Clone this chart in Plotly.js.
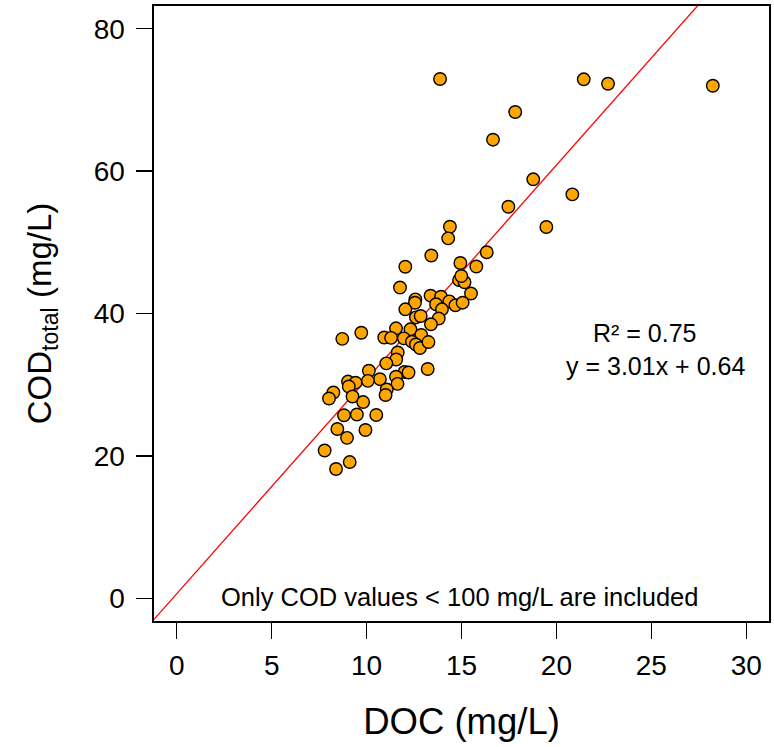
<!DOCTYPE html>
<html>
<head>
<meta charset="utf-8">
<script src="https://cdn.plot.ly/plotly-3.0.1.min.js"></script>
<style>html,body{margin:0;padding:0;background:#fff}#chart{width:774px;height:747px}</style>
</head>
<body>
<div id="chart"></div>
<script>
// DOC (mg/L)
const doc = [13.87,21.44,22.72,28.24,17.83,16.66,18.78,20.84,17.47,19.47,
  14.39,14.30,13.41,16.33,14.94,12.04,15.78,14.87,15.16,14.99,
  11.76,15.50,13.37,13.92,12.57,12.55,14.36,13.66,14.68,15.06,
  13.97,12.04,12.60,12.85,13.80,13.39,11.55,12.31,9.72,8.72,
  10.93,11.29,11.96,12.88,12.39,12.60,12.81,13.26,11.64,11.56,
  11.04,13.22,12.00,12.21,10.12,10.70,11.55,11.63,9.02,9.42,
  9.06,10.07,11.06,11.00,8.25,9.26,8.02,9.82,8.81,9.49,
  10.51,8.46,8.97,9.94,7.79,9.11,8.39];
// COD total (mg/L)
const cod = [72.94,72.90,72.28,72.00,68.31,64.42,58.85,56.74,55.00,52.15,
  52.19,50.56,48.15,48.60,47.09,46.57,46.60,44.70,44.39,45.27,
  43.65,42.81,42.50,42.36,41.99,41.51,41.71,41.30,41.15,41.52,
  40.59,40.59,39.46,39.65,39.30,38.48,37.92,37.78,37.30,36.44,
  36.63,36.58,36.51,36.98,36.04,35.64,35.15,35.99,34.52,33.54,
  33.00,32.20,31.78,31.71,31.96,30.77,31.12,30.12,30.44,30.28,
  29.74,30.54,29.32,28.55,28.90,28.34,28.06,27.56,25.70,25.81,
  25.74,23.77,22.53,23.63,20.75,19.13,18.15];
const slope = 3.01, intercept = 0.64;
const xRange = [-1.2, 31.2], yRange = [-3.2, 83.2];
const xTicks = [0,5,10,15,20,25,30];
const yTicks = [0,20,40,60,80];
const fitText = ["R² = 0.75", "y = 3.01x + 0.64"];
const noteText = "Only COD values < 100 mg/L are included";

const fitX = xRange.slice();
const fitY = fitX.map(x => slope*x + intercept);

const font = "Liberation Sans, Arial, sans-serif";
const data = [
  {x: fitX, y: fitY, mode: 'lines', type: 'scatter', line: {color: '#FF0000', width: 1.3}, hoverinfo: 'skip'},
  {x: doc, y: cod, mode: 'markers', type: 'scatter',
   marker: {size: 12.5, color: '#FFA500', line: {color: '#000000', width: 1.4}}}
];
const layout = {
  width: 774, height: 747,
  margin: {l: 154, r: 5, t: 6, b: 126},
  paper_bgcolor: '#fff', plot_bgcolor: '#fff',
  showlegend: false,
  font: {family: font, color: '#000'},
  xaxis: {range: xRange, tickvals: xTicks, ticktext: xTicks.map(String), ticks: 'outside', ticklen: 16, tickwidth: 1.4, tickcolor: '#000',
    showline: true, linecolor: '#000', linewidth: 1.6, mirror: true, showgrid: false, zeroline: false,
    ticklabelstandoff: 3,
    tickfont: {size: 28, family: font}, title: {text: 'DOC (mg/L)', font: {size: 36.5, family: font}, standoff: 28}},
  yaxis: {range: yRange, tickvals: yTicks, ticktext: yTicks.map(String), ticks: 'outside', ticklen: 16, tickwidth: 1.4, tickcolor: '#000',
    showline: true, linecolor: '#000', linewidth: 1.6, mirror: true, showgrid: false, zeroline: false,
    ticklabelstandoff: 6,
    tickfont: {size: 28, family: font}, title: {text: 'COD<sub>total</sub> (mg/L)', font: {size: 33, family: font}, standoff: 32}},
  annotations: [
    {x: 24.68, y: 37.26, xref: 'x', yref: 'y', text: fitText[0], showarrow: false, font: {size: 25, family: font}},
    {x: 25.2, y: 32.6, xref: 'x', yref: 'y', text: fitText[1], showarrow: false, font: {size: 25, family: font}},
    {x: 14.9, y: 0.2, xref: 'x', yref: 'y', text: noteText, showarrow: false, font: {size: 25.5, family: font}}
  ]
};
Plotly.newPlot('chart', data, layout, {displayModeBar: false, staticPlot: true});
</script>
</body>
</html>
